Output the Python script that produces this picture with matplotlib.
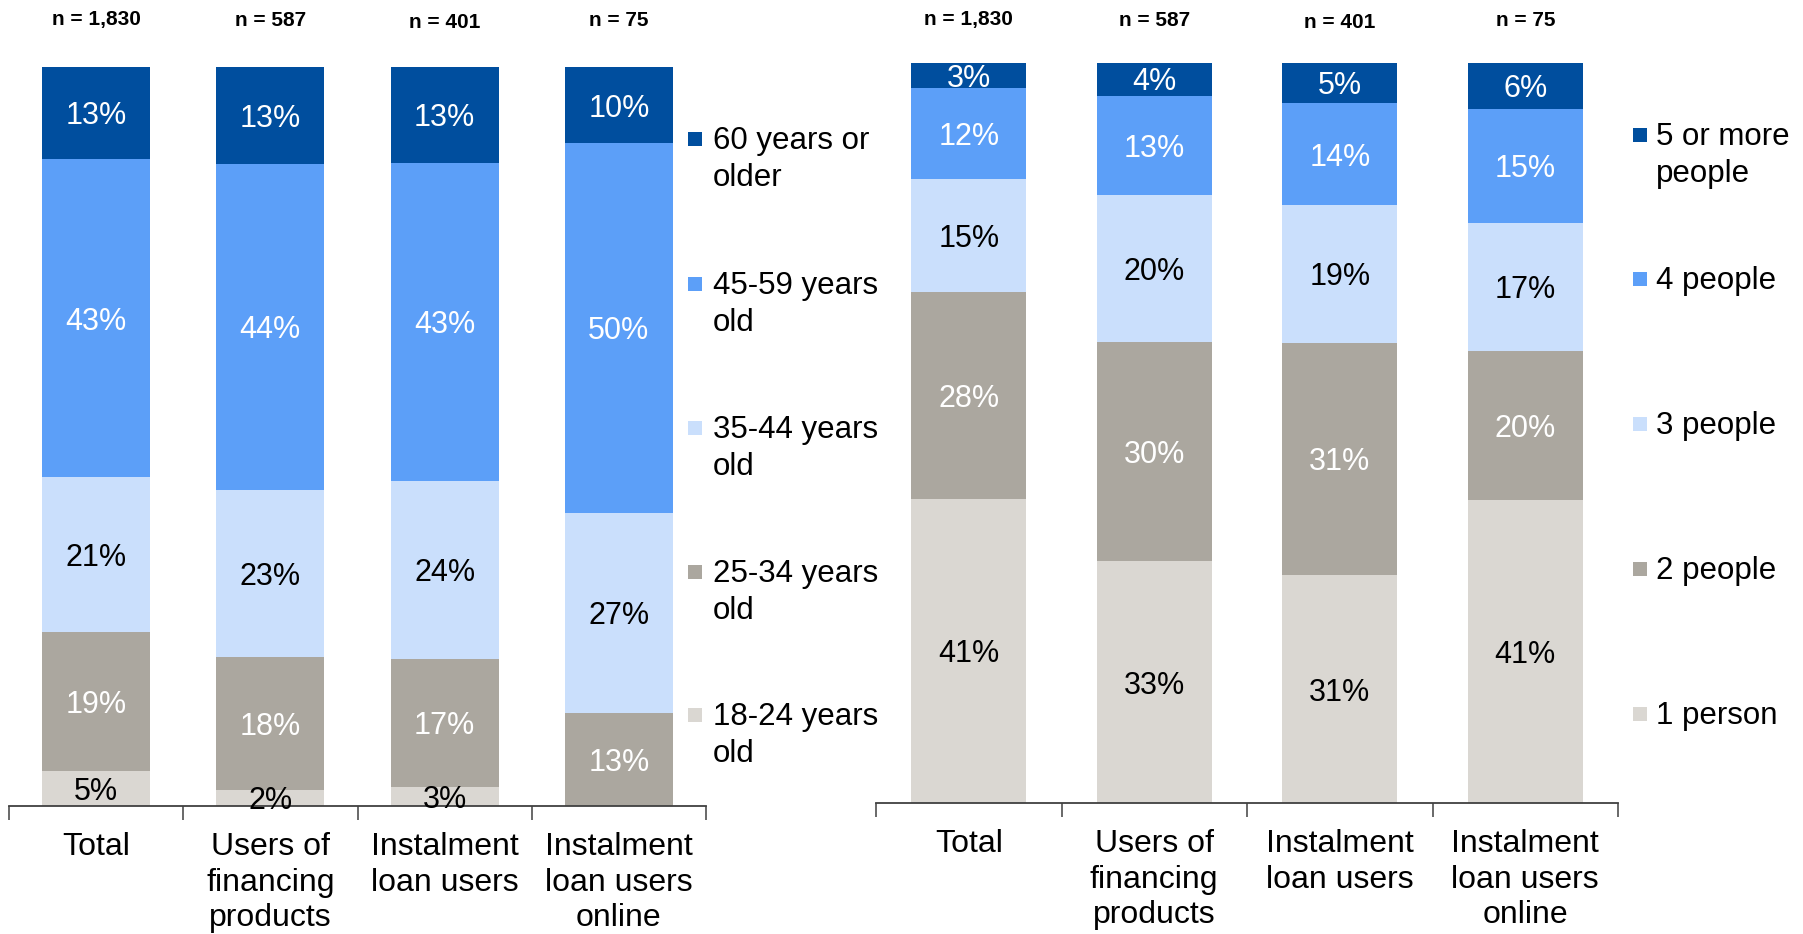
import matplotlib
matplotlib.use("Agg")
import matplotlib.pyplot as plt
import matplotlib.transforms as mtransforms
from matplotlib.patches import Rectangle

plt.rcParams['font.family'] = ['Liberation Sans', 'DejaVu Sans']

categories = ["Total", "Users of\nfinancing\nproducts", "Instalment\nloan users", "Instalment\nloan users\nonline"]
n_sizes = [1830, 587, 401, 75]

# Age groups (bottom to top)
age_labels = ["18-24 years\nold", "25-34 years\nold", "35-44 years\nold", "45-59 years\nold", "60 years or\nolder"]
age_18_24 = [4.8, 2.2, 2.6, 0.0]
age_25_34 = [18.8, 17.9, 17.3, 12.6]
age_35_44 = [20.9, 22.7, 24.1, 27.1]
age_45_59 = [43.0, 44.1, 43.0, 50.0]
age_60_plus = [12.6, 13.1, 13.2, 10.3]

# Household size (bottom to top)
hh_labels = ["1 person", "2 people", "3 people", "4 people", "5 or more\npeople"]
hh_1 = [41.1, 32.7, 30.8, 40.9]
hh_2 = [28.0, 29.6, 31.4, 20.2]
hh_3 = [15.2, 19.9, 18.6, 17.3]
hh_4 = [12.3, 13.4, 13.8, 15.4]
hh_5 = [3.4, 4.5, 5.4, 6.2]

colors = ["#DAD7D2", "#ABA79F", "#CADFFC", "#5C9FF8", "#004E9E"]
text_colors = ["black", "white", "black", "white", "white"]

W, H = 1803, 934
fig = plt.figure(figsize=(W / 100, H / 100), dpi=100)


def px_axes(x0, x1, ytop, ybot):
    return fig.add_axes([x0 / W, (H - ybot) / H, (x1 - x0) / W, (ybot - ytop) / H])


def draw(ax, series, legend_labels, leg_marker_x, leg_text_x, leg_ys):
    x = list(range(len(categories)))
    bottoms = [0.0] * len(categories)
    for s, col, tc in zip(series, colors, text_colors):
        ax.bar(x, s, bottom=bottoms, width=0.62, color=col, edgecolor='none', zorder=2)
        for i, v in enumerate(s):
            if v > 0:
                ax.text(i, bottoms[i] + v / 2, f"{v:.0f}%", ha='center', va='center_baseline',
                        fontsize=22, color=tc, zorder=4)
        bottoms = [b + v for b, v in zip(bottoms, s)]
    ax.set_xlim(-0.5, len(categories) - 0.5)
    ax.set_ylim(0, 100)
    for sp in ['top', 'right', 'left']:
        ax.spines[sp].set_visible(False)
    ax.spines['bottom'].set_color('#404040')
    ax.spines['bottom'].set_linewidth(1.3)
    ax.spines['bottom'].set_zorder(3)
    ax.set_yticks([])
    ax.set_xticks(x)
    ax.set_xticklabels(categories, fontsize=23, linespacing=1.24)
    ax.tick_params(axis='x', which='major', length=0, pad=19)
    ax.set_xticks([i - 0.5 for i in range(len(categories) + 1)], minor=True)
    ax.tick_params(axis='x', which='minor', length=10, width=1.1, color='#404040', direction='out')
    trans = mtransforms.blended_transform_factory(ax.transData, fig.transFigure)
    n_dy = [0, 0, 2, 0]
    for i, n in enumerate(n_sizes):
        ax.text(i, 1 - (20 + n_dy[i]) / H, f"n = {n:,}", ha='center', va='center', fontsize=15,
                fontweight='bold', transform=trans)
    # legend (top to bottom)
    for lab, col, y in zip(legend_labels[::-1], colors[::-1], leg_ys):
        fig.patches.append(Rectangle((leg_marker_x / W, (H - y - 7) / H), 14 / W, 14 / H,
                                     facecolor=col, edgecolor='none', transform=fig.transFigure))
        fig.text(leg_text_x / W, (H - y + 13) / H, lab, ha='left', va='top', fontsize=22.5,
                 linespacing=1.3)


ax1 = px_axes(9, 706, 67, 806)
draw(ax1, [age_18_24, age_25_34, age_35_44, age_45_59, age_60_plus], age_labels,
     688, 713, [139, 284, 428, 572, 715])

ax2 = px_axes(876, 1618, 63, 803)
draw(ax2, [hh_1, hh_2, hh_3, hh_4, hh_5], hh_labels,
     1633, 1656, [135, 279, 424, 569, 714])

fig.savefig("out.png", dpi=100)
